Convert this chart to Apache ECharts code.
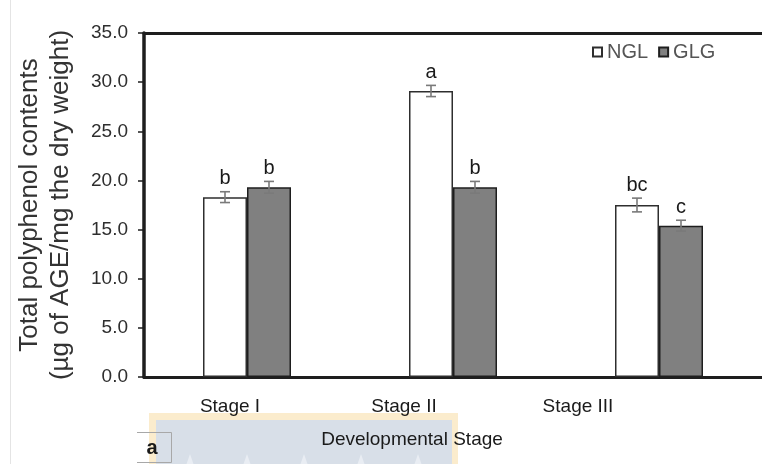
<!DOCTYPE html>
<html>
<head>
<meta charset="utf-8">
<script src="https://cdn.jsdelivr.net/npm/echarts@6/dist/echarts.min.js"></script>
<style>
  html, body { margin: 0; padding: 0; background: #ffffff; }
  #chart { width: 762px; height: 464px; }
</style>
</head>
<body>
<div id="chart"></div>
<script>
// Total polyphenol content per developmental stage
const categories = ['Stage I', 'Stage II', 'Stage III'];
const nglValues = [18.3, 29.1, 17.5];
const glgValues = [19.3, 19.3, 15.4];
const nglErrors = [0.55, 0.57, 0.7];
const glgErrors = [0.6, 0.6, 0.55];
const nglLetters = ['b', 'a', 'bc'];
const glgLetters = ['b', 'b', 'c'];
const yTicks = { min: 0, max: 35, step: 5 };

const FONT = '"Liberation Sans", Arial, sans-serif';
const BAR_W = 44;

// Error bar plus significance letter, drawn on the bar's own coordinates
function errorSeries(values, errors, letters, side) {
  return {
    type: 'custom',
    xAxisIndex: 0,
    yAxisIndex: 0,
    z: 5,
    data: values.map((v, i) => [i, v, errors[i]]),
    renderItem: function (params, api) {
      const i = api.value(0);
      const v = api.value(1);
      const e = api.value(2);
      const x = api.coord([i, v])[0] + side * BAR_W / 2;
      const yHi = api.coord([i, v + e])[1];
      const yLo = api.coord([i, v - e])[1];
      const cap = 5;
      const st = { stroke: '#7a7a7a', lineWidth: 1.6 };
      return {
        type: 'group',
        children: [
          { type: 'line', shape: { x1: x, y1: yHi, x2: x, y2: yLo }, style: st },
          { type: 'line', shape: { x1: x - cap, y1: yHi, x2: x + cap, y2: yHi }, style: st },
          { type: 'line', shape: { x1: x - cap, y1: yLo, x2: x + cap, y2: yLo }, style: st },
          {
            type: 'text',
            style: {
              x: x, y: yHi - 3,
              text: letters[params.dataIndex],
              fill: '#1a1a1a',
              font: '20px ' + FONT,
              align: 'center',
              verticalAlign: 'bottom'
            }
          }
        ]
      };
    }
  };
}

const chart = echarts.init(document.getElementById('chart'), null, { renderer: 'canvas' });

chart.setOption({
  backgroundColor: '#ffffff',
  animation: false,
  textStyle: { fontFamily: FONT },
  grid: [
    { left: 144, top: 33, right: -3, bottom: 87, containLabel: false },
    { left: 143, top: 33, width: 522, bottom: 87, containLabel: false }
  ],
  legend: {
    data: ['NGL', 'GLG'],
    left: 592,
    top: 42,
    padding: 0,
    itemWidth: 9,
    itemHeight: 9,
    itemGap: 10,
    icon: 'rect',
    textStyle: { fontSize: 20, color: '#555555', fontFamily: FONT }
  },
  xAxis: [
    {
      type: 'category',
      gridIndex: 0,
      data: categories,
      position: 'bottom',
      axisLine: { lineStyle: { color: '#1e1e1e', width: 3 } },
      axisTick: { show: false },
      axisLabel: { show: false }
    },
    {
      type: 'category',
      gridIndex: 0,
      data: categories,
      position: 'top',
      axisLine: { show: true, lineStyle: { color: '#1e1e1e', width: 3 } },
      axisTick: { show: false },
      axisLabel: { show: false }
    },
    {
      type: 'category',
      gridIndex: 1,
      data: categories,
      position: 'bottom',
      axisLine: { show: false },
      axisTick: { show: false },
      axisLabel: { fontSize: 19, color: '#1a1a1a', margin: 20, fontFamily: FONT }
    }
  ],
  yAxis: [
    {
      type: 'value',
      gridIndex: 0,
      min: yTicks.min,
      max: yTicks.max,
      interval: yTicks.step,
      name: 'Total polyphenol contents\n(µg of AGE/mg the dry weight)',
      nameLocation: 'middle',
      nameGap: 68,
      nameTextStyle: { fontSize: 26, color: '#333333', lineHeight: 31, fontFamily: FONT },
      axisLine: { show: true, lineStyle: { color: '#1e1e1e', width: 3.5 } },
      axisTick: { show: true, length: 6, lineStyle: { color: '#1e1e1e', width: 1.5 } },
      axisLabel: {
        fontSize: 19, color: '#2e2e2e', margin: 16, fontFamily: FONT,
        formatter: v => v.toFixed(1)
      },
      splitLine: { show: false }
    },
    {
      type: 'value',
      gridIndex: 1,
      min: yTicks.min,
      max: yTicks.max,
      show: false
    }
  ],
  series: [
    {
      name: 'NGL',
      type: 'bar',
      xAxisIndex: 0,
      yAxisIndex: 0,
      data: nglValues,
      barWidth: BAR_W,
      barGap: '0%',
      itemStyle: { color: '#ffffff', borderColor: '#2e2e2e', borderWidth: 1.5 }
    },
    {
      name: 'GLG',
      type: 'bar',
      xAxisIndex: 0,
      yAxisIndex: 0,
      data: glgValues,
      barWidth: BAR_W,
      barGap: '0%',
      itemStyle: { color: '#808080', borderColor: '#1e1e1e', borderWidth: 1.5 }
    },
    errorSeries(nglValues, nglErrors, nglLetters, -1),
    errorSeries(glgValues, glgErrors, glgLetters, 1)
  ],
  graphic: [
    // thin page edge on the left
    { type: 'line', shape: { x1: 10.5, y1: 0, x2: 10.5, y2: 464 }, style: { stroke: '#e4e4e4', lineWidth: 1 } },
    // shaded badge behind the axis title
    { type: 'rect', shape: { x: 149, y: 413, width: 309, height: 60 }, style: { fill: '#fbeccd' }, z: -1 },
    { type: 'rect', shape: { x: 156, y: 420, width: 296, height: 60 }, style: { fill: '#d8dfe8' }, z: -1 },
    ...[190, 247, 304, 361, 418].map(cx => ({
      type: 'polygon',
      z: -1,
      shape: {
        points: [0, 1, 2, 3, 4, 5, 6, 7, 8, 9].map(k => {
          const r = k % 2 === 0 ? 20 : 8;
          const a = -Math.PI / 2 + k * Math.PI / 5;
          return [cx + r * Math.cos(a), 474 + r * Math.sin(a)];
        })
      },
      style: { fill: '#e9edf3' }
    })),
    {
      type: 'text',
      style: {
        x: 412, y: 440, text: 'Developmental Stage',
        font: '19px ' + FONT, fill: '#1a1a1a', align: 'center', verticalAlign: 'middle'
      }
    },
    // panel tag
    { type: 'polyline', shape: { points: [[137, 432.5], [171.5, 432.5], [171.5, 462.5], [137, 462.5]] }, style: { stroke: '#a8a8a8', lineWidth: 1, fill: null } },
    {
      type: 'text',
      style: {
        x: 152, y: 448, text: 'a',
        font: 'bold 20px ' + FONT, fill: '#1a1a1a', align: 'center', verticalAlign: 'middle'
      }
    }
  ]
});
</script>
</body>
</html>
